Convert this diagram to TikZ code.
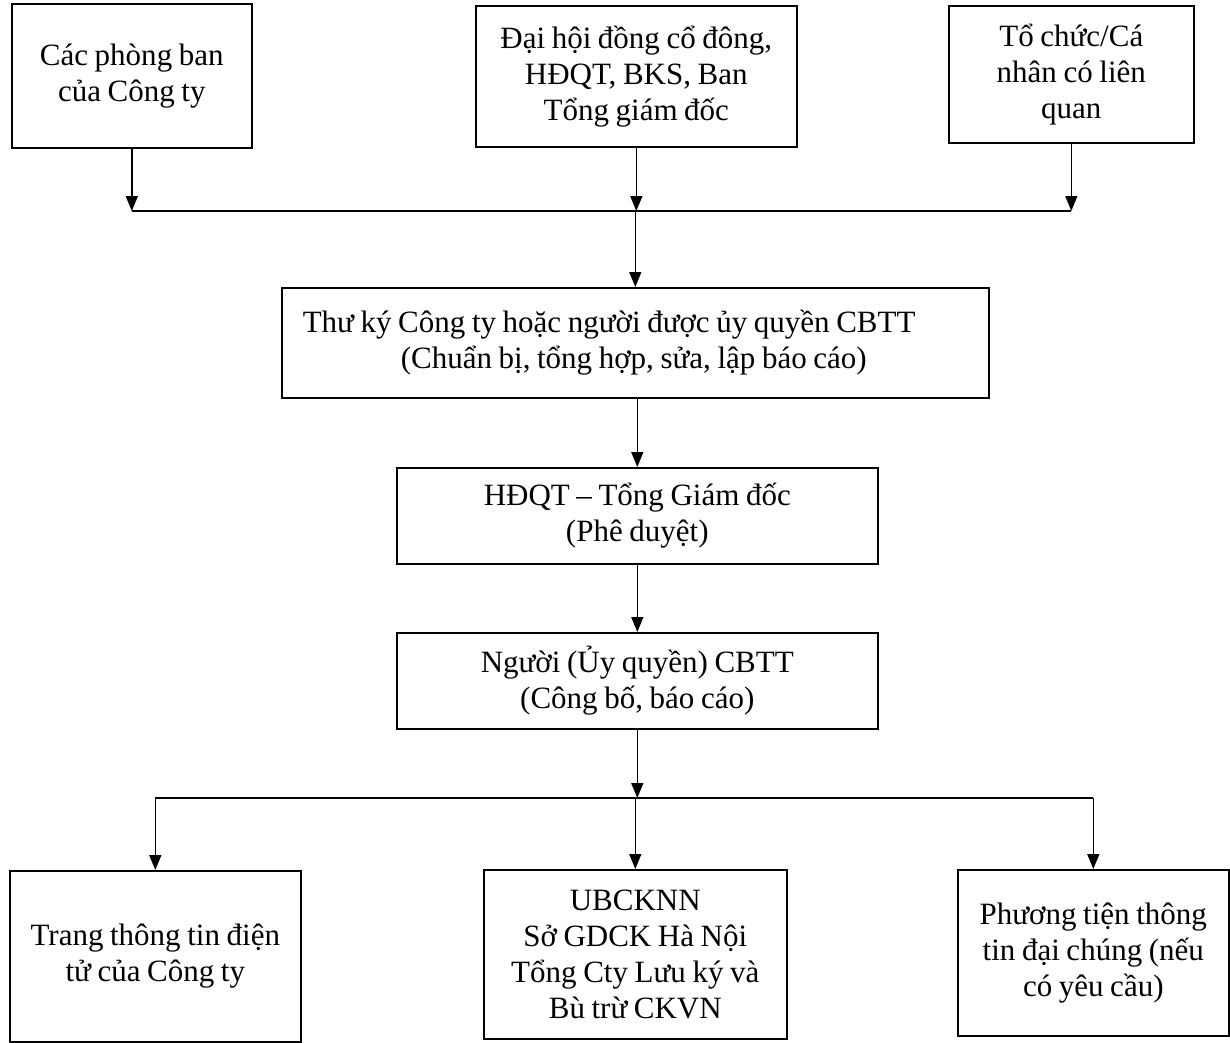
\documentclass[tikz,border=0pt]{standalone}
\usepackage{fontspec}
\setmainfont{Liberation Serif}
\usetikzlibrary{arrows.meta}
\newcommand{\boxfont}{\fontsize{31pt}{36pt}\selectfont}
\newcommand{\tightspace}{\spaceskip=6.6pt\relax\xspaceskip=6.6pt\relax}
\begin{document}
\begin{tikzpicture}[x=1pt,y=-1pt,
  box/.style={draw, line width=1.6pt, inner sep=0pt, anchor=north west, align=center,
    font=\boxfont, execute at begin node=\tightspace},
  link/.style={line width=1.6pt},
  arr/.style={line width=1.6pt, -{Triangle[length=15pt,width=12pt]}}]
\fill[white] (0,0) rectangle (1230,1042);
\useasboundingbox (0,0) rectangle (1230,1042);

\node[box, text width=240pt, minimum height=144pt] (A) at (11,3) {Các phòng ban\\của Công ty\\[20pt]};
\node[box, text width=321pt, minimum height=141pt] (B) at (475,5) {Đại hội đồng cổ đông,\\HĐQT, BKS, Ban\\Tổng giám đốc};
\node[box, text width=245pt, minimum height=137pt] (C) at (948,5) {Tổ chức/Cá\\nhân có liên\\quan};

\node[box, text width=707pt, minimum height=110pt] (D) at (281,287)
  {\makebox[707pt][l]{\hspace*{21pt}\begin{tabular}{@{}l@{}}\tightspace Thư ký Công ty hoặc người được ủy quyền CBTT\\\tightspace\hspace*{98pt}(Chuẩn bị, tổng hợp, sửa, lập báo cáo)\end{tabular}}\\[-10pt]};
\node[box, text width=481pt, minimum height=96pt] (E) at (396,467) {HĐQT – Tổng Giám đốc\\(Phê duyệt)};
\node[box, text width=481pt, minimum height=96pt] (F) at (396,632) {Người (Ủy quyền) CBTT\\(Công bố, báo cáo)};

\node[box, text width=291pt, minimum height=171pt] (G) at (9,870) {Trang thông tin điện\\tử của Công ty\\[4pt]};
\node[box, text width=303pt, minimum height=169pt] (H) at (483,869) {UBCKNN\\Sở GDCK Hà Nội\\Tổng Cty Lưu ký và\\Bù trừ CKVN};
\node[box, text width=271pt, minimum height=166pt] (I) at (957,869) {Phương tiện thông\\tin đại chúng (nếu\\có yêu cầu)};

\coordinate (top) at (0,211);
\coordinate (bot) at (0,798);
\coordinate (ja) at (A.south |- top);
\coordinate (jb) at (B.south |- top);
\coordinate (jc) at (C.south |- top);
\coordinate (kf) at (F.south |- bot);
\coordinate (kg) at (G.north |- bot);
\coordinate (kh) at (H.north |- bot);
\coordinate (ki) at (I.north |- bot);

\draw[arr] (A.south) -- (ja);
\draw[arr] (B.south) -- (jb);
\draw[arr] (C.south) -- (jc);
\draw[link] (ja) -- (jc);
\draw[arr] (D.north |- jb) -- (D.north);
\draw[arr] (E.north |- D.south) -- (E.north);
\draw[arr] (F.north |- E.south) -- (F.north);
\draw[arr] (F.south) -- (kf);
\draw[link] (kg) -- (ki);
\draw[arr] (kg) -- (G.north);
\draw[arr] (kh) -- (H.north);
\draw[arr] (ki) -- (I.north);
\end{tikzpicture}
\end{document}
